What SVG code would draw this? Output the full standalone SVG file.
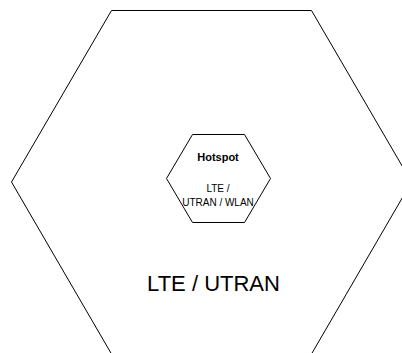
<svg xmlns="http://www.w3.org/2000/svg" width="402" height="353" viewBox="0 0 402 353">
<style>
.hex{fill:#ffffff;stroke:#000000;stroke-width:1}
.t{font-family:"Liberation Sans",Arial,sans-serif;fill:#000000;text-anchor:middle}
</style>
<rect width="402" height="353" fill="#ffffff"/>
<g id="cell">
<polygon class="hex" points="111.5,10.5 311.5,10.5 411.5,182 311.5,354 111.5,354 11.5,182"/>
<text class="t" x="213.5" y="291" font-size="22">LTE / UTRAN</text>
</g>
<g id="hotspot">
<polygon class="hex" points="192.5,134.5 244.5,134.5 270.5,178.5 244.5,222.5 192.5,222.5 166.5,178.5"/>
<text class="t" x="218" y="161" font-size="11" font-weight="bold">Hotspot</text>
<text class="t" x="218" y="192" font-size="10">LTE /</text>
<text class="t" x="218" y="206" font-size="10">UTRAN / WLAN</text>
</g>
<g id="connectors"></g>
</svg>
